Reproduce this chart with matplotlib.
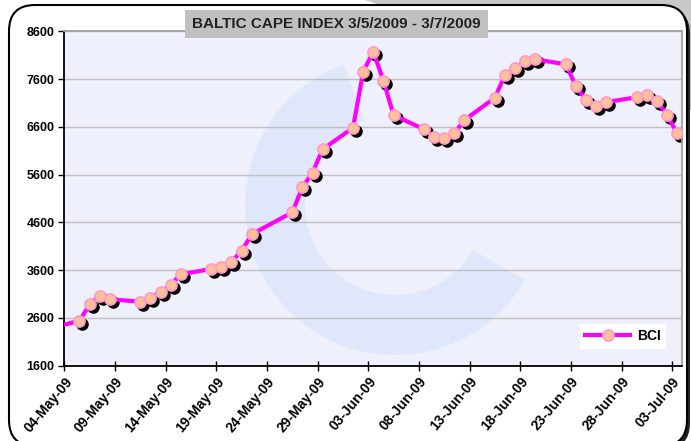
import matplotlib
matplotlib.use('Agg')
import matplotlib.pyplot as plt
import matplotlib.dates as mdates
from matplotlib.patches import FancyBboxPatch, Polygon, Wedge
from matplotlib.transforms import IdentityTransform, offset_copy
import pandas as pd

plt.rcParams['font.family'] = ['Liberation Sans', 'DejaVu Sans']
plt.rcParams['font.weight'] = 'bold'

# BCI daily values
dates = ['2009-05-01', '2009-05-05', '2009-05-06', '2009-05-07', '2009-05-08',
         '2009-05-11', '2009-05-12', '2009-05-13', '2009-05-14', '2009-05-15',
         '2009-05-18', '2009-05-19', '2009-05-20', '2009-05-21', '2009-05-22',
         '2009-05-26', '2009-05-27', '2009-05-28', '2009-05-29',
         '2009-06-01', '2009-06-02', '2009-06-03', '2009-06-04', '2009-06-05',
         '2009-06-08', '2009-06-09', '2009-06-10', '2009-06-11', '2009-06-12',
         '2009-06-15', '2009-06-16', '2009-06-17', '2009-06-18', '2009-06-19',
         '2009-06-22', '2009-06-23', '2009-06-24', '2009-06-25', '2009-06-26',
         '2009-06-29', '2009-06-30', '2009-07-01', '2009-07-02', '2009-07-03']
bci = [2320, 2540, 2885, 3065, 2990,
       2940, 3023, 3149, 3289, 3513,
       3624, 3672, 3777, 4001, 4350,
       4811, 5334, 5640, 6129,
       6581, 7753, 8172, 7565, 6847,
       6548, 6393, 6360, 6464, 6743,
       7209, 7684, 7825, 7977, 8013,
       7908, 7454, 7155, 7035, 7119,
       7218, 7259, 7146, 6847, 6464]

tick_dates = ['2009-05-04', '2009-05-09', '2009-05-14', '2009-05-19', '2009-05-24',
              '2009-05-29', '2009-06-03', '2009-06-08', '2009-06-13', '2009-06-18',
              '2009-06-23', '2009-06-28', '2009-07-03']
tick_labels = ['04-May-09', '09-May-09', '14-May-09', '19-May-09', '24-May-09',
               '29-May-09', '03-Jun-09', '08-Jun-09', '13-Jun-09', '18-Jun-09',
               '23-Jun-09', '28-Jun-09', '03-Jul-09']
y_ticks = [1600, 2600, 3600, 4600, 5600, 6600, 7600, 8600]

W, H = 691, 441
fig = plt.figure(figsize=(W / 100, H / 100), dpi=100)
fig.patch.set_facecolor('white')

# grey corner at the top right and the rounded chart frame (behind the axes)
fig.patches.append(Polygon([(365, H), (W, H), (W, H - 110)], closed=True,
                           facecolor='#C8C8C8', edgecolor='none',
                           transform=IdentityTransform(), zorder=-3))
fig.patches.append(FancyBboxPatch((12, -8), 678, 441, boxstyle='round,pad=0,rounding_size=26',
                                  facecolor='#222222', edgecolor='none',
                                  transform=IdentityTransform(), zorder=-2))
fig.patches.append(FancyBboxPatch((9, -5), 678, 441, boxstyle='round,pad=0,rounding_size=26',
                                  facecolor='white', edgecolor='black', linewidth=1.5,
                                  transform=IdentityTransform(), zorder=-1))

ax = fig.add_axes([64.3 / W, 1 - 365.7 / H, (682.3 - 64.3) / W, (365.7 - 31.3) / H])
ax.set_facecolor('#EEF0FC')

# faint logo watermark behind the data
logo = Wedge((395, H - 205), 150, 110, 330, width=60, facecolor='#E1E7FA',
             edgecolor='none', transform=IdentityTransform(), zorder=0.5)
ax.add_patch(logo)
logo.set_clip_path(ax.patch)

x = mdates.date2num(pd.to_datetime(dates)) + 0.5
shadow = offset_copy(ax.transData, fig=fig, x=3, y=-3, units='dots')
ax.plot(x, bci, linestyle='none', marker='o', markersize=8, color='black',
        transform=shadow, zorder=2)
ax.plot(x, bci, color='#FF00FF', linewidth=3, marker='o', markersize=8,
        markerfacecolor='#FFC09A', markeredgecolor='#FF99CC', markeredgewidth=1.2,
        zorder=3, label='BCI')

ax.set_xlim(mdates.date2num(pd.Timestamp('2009-05-04')), mdates.date2num(pd.Timestamp('2009-07-04')))
ax.set_ylim(1600, 8600)
ax.set_yticks(y_ticks)
ax.set_xticks(mdates.date2num(pd.to_datetime(tick_dates)))
ax.set_xticklabels(tick_labels, rotation=50, ha='right', va='top', rotation_mode='anchor')
ax.grid(axis='y', color='#C0C0C0', linewidth=1)
ax.set_axisbelow(True)
ax.tick_params(axis='x', direction='inout', length=7, width=1, labelsize=10, pad=3)
ax.tick_params(axis='y', direction='out', length=4, width=1, labelsize=9, pad=3)

for side in ['left', 'bottom']:
    ax.spines[side].set_color('black')
    ax.spines[side].set_linewidth(1.3)
for side in ['top', 'right']:
    ax.spines[side].set_color('#A0A0A0')
    ax.spines[side].set_linewidth(1.3)

leg = ax.legend(loc='lower right', bbox_to_anchor=(0.985, 0.03), frameon=True, fancybox=False,
                fontsize=10, handlelength=3.2, borderpad=0.4, handletextpad=0.5)
leg.get_frame().set_edgecolor('none')
leg.get_frame().set_facecolor('white')
leg.get_frame().set_alpha(1)

fig.text(336.5 / W, 1 - 24 / H, 'BALTIC CAPE INDEX 3/5/2009 - 3/7/2009', ha='center', va='center',
         fontsize=11, fontweight='bold', color='#222222',
         bbox=dict(boxstyle='square,pad=0.45', facecolor='#C0C0C0', edgecolor='none'), zorder=5)

plt.savefig('out.png', dpi=100)
